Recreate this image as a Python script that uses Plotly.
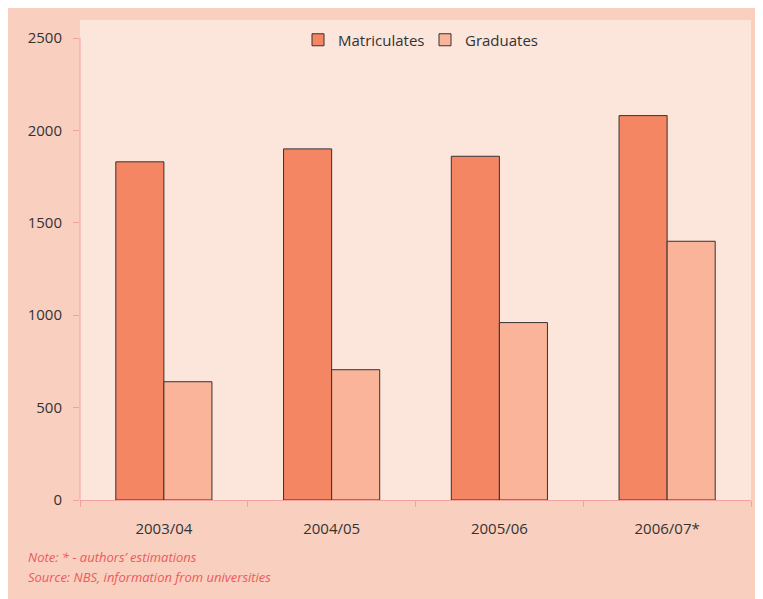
import plotly.graph_objects as go

categories = ["2003/04", "2004/05", "2005/06", "2006/07*"]
matriculates = [1830, 1900, 1860, 2080]
graduates = [640, 705, 960, 1400]
y_ticks = [0, 500, 1000, 1500, 2000, 2500]

OFF = 8  # page body margin
W, H = 763, 599
L, T = 80 - OFF, 20 - OFF
R = W - (751 - OFF)
B = H - (500 - OFF)
pw, ph = W - L - R, H - T - B

def px(x):
    return (x - OFF - L) / pw

def py(y):
    return (H - B - (y - OFF)) / ph

axis_col = "#f2a29c"
font_fam = "Open Sans, Noto Sans, sans-serif"

fig = go.Figure()
fig.add_trace(go.Bar(name="Matriculates", x=categories, y=matriculates,
                     marker=dict(color="#f48664", line=dict(color="#333333", width=1))))
fig.add_trace(go.Bar(name="Graduates", x=categories, y=graduates,
                     marker=dict(color="#f9b49a", line=dict(color="#333333", width=1))))

fig.update_layout(
    width=W, height=H,
    margin=dict(l=L, r=R, t=T, b=B),
    paper_bgcolor="#f9cfbf",
    plot_bgcolor="#fce5db",
    barmode="group",
    bargap=0.427,
    bargroupgap=0,
    font=dict(family=font_fam, size=15, color="#333333"),
    legend=dict(orientation="h", x=px(298), xanchor="left", y=py(40), yanchor="middle",
                bgcolor="rgba(0,0,0,0)", font=dict(size=15, color="#333333"),
                entrywidth=82, entrywidthmode="pixels", traceorder="normal"),
    xaxis=dict(tickson="boundaries", ticks="outside", ticklen=6, tickcolor=axis_col,
               showline=True, linecolor=axis_col, linewidth=1, showgrid=False,
               range=[-0.5, 3.5], ticklabelstandoff=15,
               tickfont=dict(size=15, color="#333333")),
    yaxis=dict(range=[0, 2500 * 480 / 462], tickvals=y_ticks, ticks="outside", ticklen=6,
               tickcolor=axis_col, showline=False, showgrid=False, zeroline=False,
               ticklabelstandoff=8, tickfont=dict(size=15, color="#333333")),
    shapes=[
        dict(type="line", xref="paper", yref="y", x0=0, x1=0, y0=0, y1=2500,
             line=dict(color=axis_col, width=1)),
    ],
    annotations=[
        dict(text="<i>Note: * - authors’ estimations</i>", xref="paper", yref="paper",
             x=px(26), y=py(557), xanchor="left", yanchor="middle", showarrow=False,
             font=dict(size=13, color="#ec5a5c")),
        dict(text="<i>Source: NBS, information from universities</i>", xref="paper", yref="paper",
             x=px(26), y=py(577), xanchor="left", yanchor="middle", showarrow=False,
             font=dict(size=13, color="#ec5a5c")),
    ],
)

fig.write_html("out.html")
